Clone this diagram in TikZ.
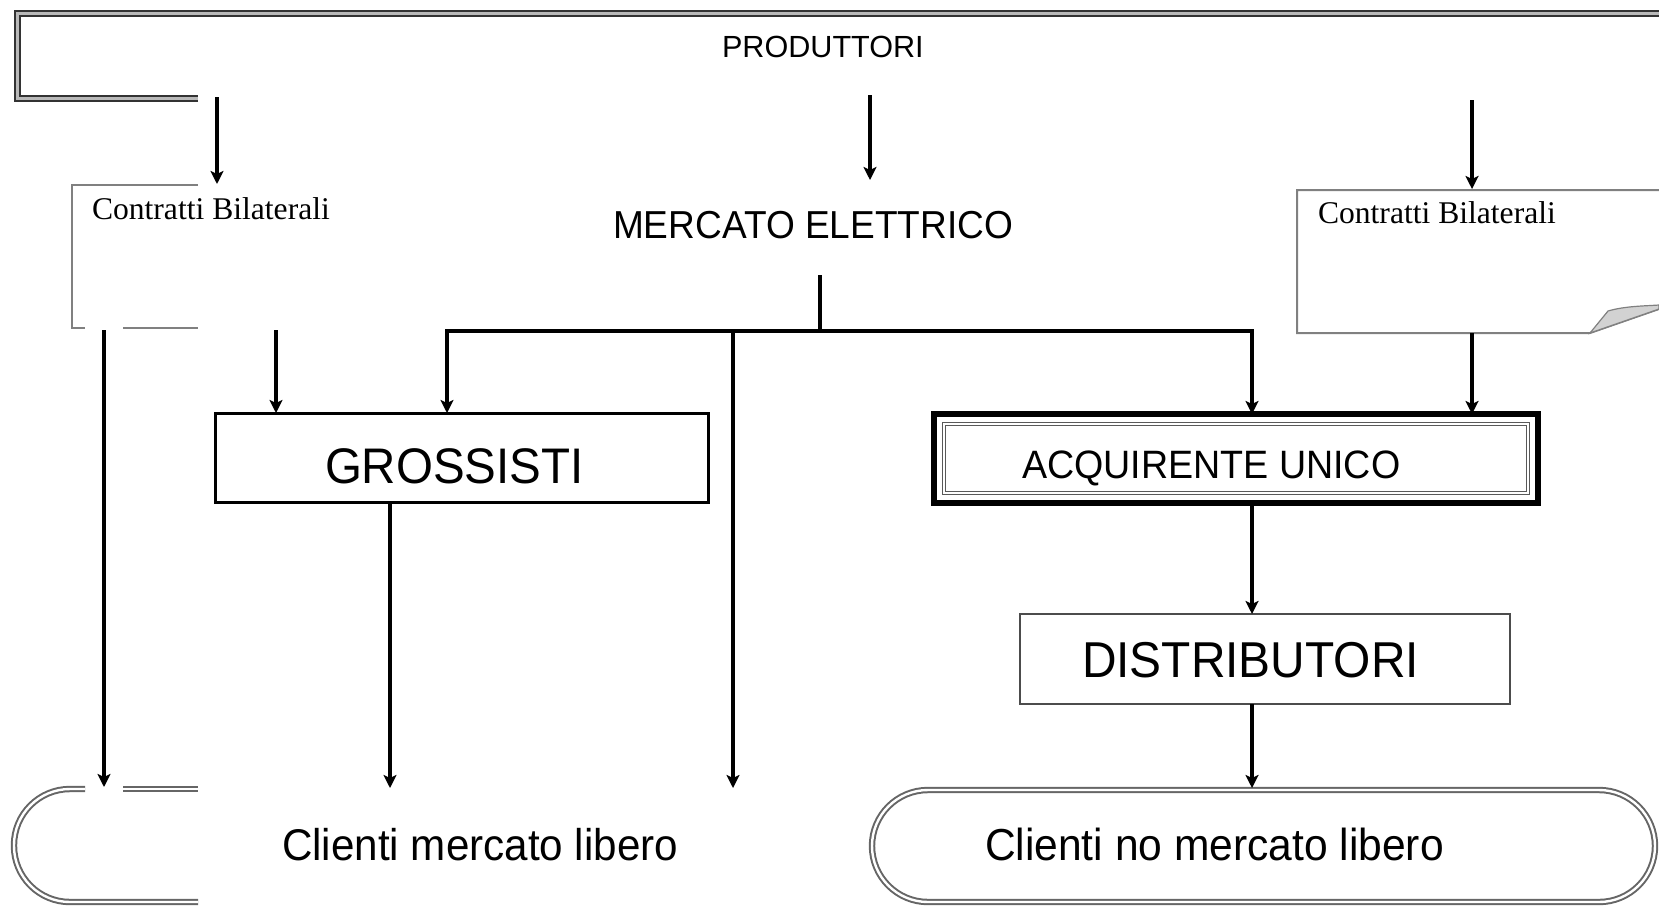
\documentclass[tikz,border=0pt]{standalone}
\usepackage{fontspec}
\setmainfont{Liberation Sans}
\newfontfamily\nar[FakeStretch=0.95]{Liberation Sans}
\newfontfamily\tms{Liberation Serif}
\usetikzlibrary{arrows.meta}
\begin{document}
\begin{tikzpicture}[x=0.5pt,y=-0.5pt,
  arr/.style={line width=1.6pt,-{Stealth[length=6.5pt,width=6.5pt,inset=1.5pt]}},
  ln/.style={line width=1.6pt},
  graybox/.style={draw=gray, line width=1pt},
  dblgray/.style={draw=black!80, line width=1pt, double=gray!55, double distance=1.5pt},
  dblround/.style={draw=black!60, line width=1pt, double=white, double distance=1.2pt},
  txt/.style={inner sep=0pt, outer sep=0pt, anchor=base west},
  plainbox/.style={inner sep=0pt, outer sep=0pt},
]
\useasboundingbox (0,0) rectangle (1659,906);

% ---------- PRODUTTORI frame (partially hidden) ----------
\draw[dblgray] (198,98) -- (17,98) -- (17,13) -- (1659,13);
\node[txt, font=\fontsize{15.3}{18}\selectfont] (prod) at (722,57) {PRODUTTORI};

% ---------- left Contratti Bilaterali (partially hidden) ----------
\draw[graybox] (198,185) -- (72,185) -- (72,328) -- (85,328);
\draw[graybox] (123,328) -- (198,328);
\node[txt, font=\tms\fontsize{15.8}{18}\selectfont] (cbl) at (92,219) {Contratti Bilaterali};

% ---------- right Contratti Bilaterali (document shape) ----------
\draw[graybox] (1659,190) -- (1297,190) -- (1297,333) -- (1590,333) -- (1659,309);
\draw[gray, line width=0.6pt, fill=gray!35] (1590,333) -- (1608,311) .. controls (1625,306) and (1645,306) .. (1659,305) -- (1659,309) -- cycle;
\node[txt, font=\tms\fontsize{15.8}{18}\selectfont] (cbr) at (1318,223) {Contratti Bilaterali};

% ---------- MERCATO ELETTRICO ----------
\node[txt, font=\nar\fontsize{19.5}{23}\selectfont] (merc) at (613,238) {MERCATO ELETTRICO};

% ---------- GROSSISTI ----------
\node[plainbox, draw=black, line width=1.5pt, minimum width=246.5pt, minimum height=44.5pt] (gro) at (461.5,457.5) {};
\node[txt, font=\nar\fontsize{25}{30}\selectfont] (grot) at (325,483) {GROSSISTI};

% ---------- ACQUIRENTE UNICO ----------
\node[plainbox, draw=black, line width=3pt, minimum width=302pt, minimum height=44.5pt] (acq) at (1236,458.5) {};
\draw[draw=gray!70!black, line width=0.45pt, double=white, double distance=0.9pt] (944,424) rectangle (1528,493);
\node[txt, font=\nar\fontsize{19.8}{23}\selectfont] (acqt) at (1022,478) {ACQUIRENTE UNICO};

% ---------- DISTRIBUTORI ----------
\node[plainbox, draw=gray!60!black, line width=1pt, minimum width=245pt, minimum height=45pt] (dis) at (1265,659) {};
\node[txt, font=\nar\fontsize{25.2}{30}\selectfont] (dist) at (1082,677) {DISTRIBUTORI};

% ---------- Clienti mercato libero (partially hidden) ----------
\draw[dblround, rounded corners=28pt] (85,789) -- (14,789) -- (14,902) -- (198,902);
\draw[dblround] (123,789) -- (198,789);
\node[txt, font=\nar\fontsize{22.2}{27}\selectfont] (clib) at (282,860) {Clienti mercato libero};

% ---------- Clienti no mercato libero ----------
\draw[dblround, rounded corners=28pt] (872,790) rectangle (1655,902);
\node[txt, font=\nar\fontsize{22.4}{27}\selectfont] (cnolib) at (985,860) {Clienti no mercato libero};

% ---------- connector end points ----------
\coordinate (pA) at (217,97);   \coordinate (cblTop) at (217,184);
\coordinate (pB) at (870,95);   \coordinate (mercTop) at (870,180);
\coordinate (pC) at (1472,100); \coordinate (cbrTop) at (1472,189);
\coordinate (cblB1) at (104,330); \coordinate (clibTop1) at (104,787);
\coordinate (cblB2) at (276,330);
\coordinate (mercB) at (820,275);
\coordinate (busL) at (447,331); \coordinate (busR) at (1252,331);
\coordinate (busM) at (733,331); \coordinate (clibTop2) at (733,788);
\coordinate (busC) at (820,331);
\coordinate (groB) at (390,502); \coordinate (clibTop3) at (390,788);
\coordinate (cbrB) at (1472,333);
\coordinate (cnoTop) at (1252,788);

% ---------- connectors ----------
\draw[arr] (pA) -- (cblTop);
\draw[arr] (pB) -- (mercTop);
\draw[arr] (pC) -- (cbrTop);
\draw[arr] (cblB1) -- (clibTop1);
\draw[arr] (cblB2) -- (cblB2 |- gro.north);
\draw[ln] (mercB) -- (busC);
\draw[ln] ([xshift=-0.8pt]busL) -- ([xshift=0.8pt]busR);
\draw[arr] (busL) -- (busL |- gro.north);
\draw[arr] (busM) -- (clibTop2);
\draw[arr] (busR) -- (busR |- acq.north);
\draw[arr] (cbrB) -- (cbrB |- acq.north);
\draw[arr] (groB) -- (clibTop3);
\draw[arr] (busR |- acq.south) -- (busR |- dis.north);
\draw[arr] (busR |- dis.south) -- (cnoTop);
\end{tikzpicture}
\end{document}
